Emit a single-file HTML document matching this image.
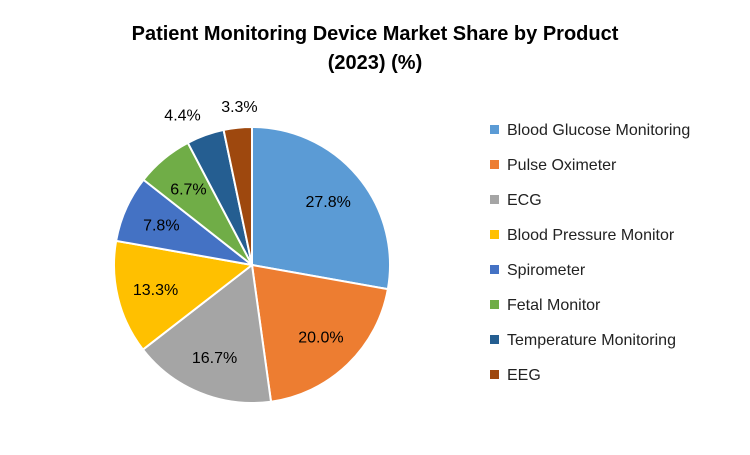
<!DOCTYPE html>
<html><head><meta charset="utf-8"><style>
body{margin:0;background:#fff;font-family:"Liberation Sans",sans-serif}
svg text{font-family:"Liberation Sans",sans-serif}
</style></head><body>
<svg id="c" width="750" height="450">
<text x="375" y="40" text-anchor="middle" font-size="20" font-weight="bold" fill="#000">Patient Monitoring Device Market Share by Product</text>
<text x="375" y="69" text-anchor="middle" font-size="20" font-weight="bold" fill="#000">(2023) (%)</text>
<g id="slices"></g><g id="labels"></g><g id="legend"></g>
</svg>
<script>
const categories=["Blood Glucose Monitoring","Pulse Oximeter","ECG","Blood Pressure Monitor","Spirometer","Fetal Monitor","Temperature Monitoring","EEG"];
const values=[27.8,20.0,16.7,13.3,7.8,6.7,4.4,3.3];
const valueLabels=["27.8%","20.0%","16.7%","13.3%","7.8%","6.7%","4.4%","3.3%"];
const colors=["#5B9BD5","#ED7D31","#A5A5A5","#FFC000","#4472C4","#70AD47","#255E91","#9E480E"];
const NS="http://www.w3.org/2000/svg";
const cx=252,cy=265,r=138;
const total=values.reduce((a,b)=>a+b,0);
function pt(a,rr){return [cx+rr*Math.sin(a),cy-rr*Math.cos(a)];}
let a0=0;
const sg=document.getElementById('slices'),lg=document.getElementById('labels'),leg=document.getElementById('legend');
let outsideCount=0;
values.forEach((v,i)=>{
 const a1=a0+v/total*2*Math.PI;
 const p0=pt(a0,r),p1=pt(a1,r);
 const large=(a1-a0)>Math.PI?1:0;
 const p=document.createElementNS(NS,'path');
 p.setAttribute('d',`M${cx},${cy}L${p0[0]},${p0[1]}A${r},${r} 0 ${large} 1 ${p1[0]},${p1[1]}Z`);
 p.setAttribute('fill',colors[i]);p.setAttribute('stroke','#fff');p.setAttribute('stroke-width','2');
 
 
 sg.appendChild(p);
 const mid=(a0+a1)/2;
 const outside=v<5;
 const lp=pt(mid,outside?r*1.16:r*0.72);
 const t=document.createElementNS(NS,'text');
 let anchor='middle',lx=lp[0];
 if(outside){ if(outsideCount===0){anchor='end';lx=lp[0]+3;} else {lx=lp[0]+4;} outsideCount++; }
 t.setAttribute('x',lx);t.setAttribute('y',lp[1]+6);
 t.setAttribute('text-anchor',anchor);t.setAttribute('font-size','16');t.setAttribute('fill','#000');
 t.textContent=valueLabels[i];
 
 
 lg.appendChild(t);
 const y=129+i*35;
 const s=document.createElementNS(NS,'rect');
 s.setAttribute('x',490);s.setAttribute('y',y-4);s.setAttribute('width',9);s.setAttribute('height',9);s.setAttribute('fill',colors[i]);
 
 
 leg.appendChild(s);
 const lt=document.createElementNS(NS,'text');
 lt.setAttribute('x',507);lt.setAttribute('y',y+6);lt.setAttribute('font-size','16');lt.setAttribute('fill','#222');
 lt.textContent=categories[i];
 
 
 leg.appendChild(lt);
 a0=a1;
});
</script>
</body></html>
